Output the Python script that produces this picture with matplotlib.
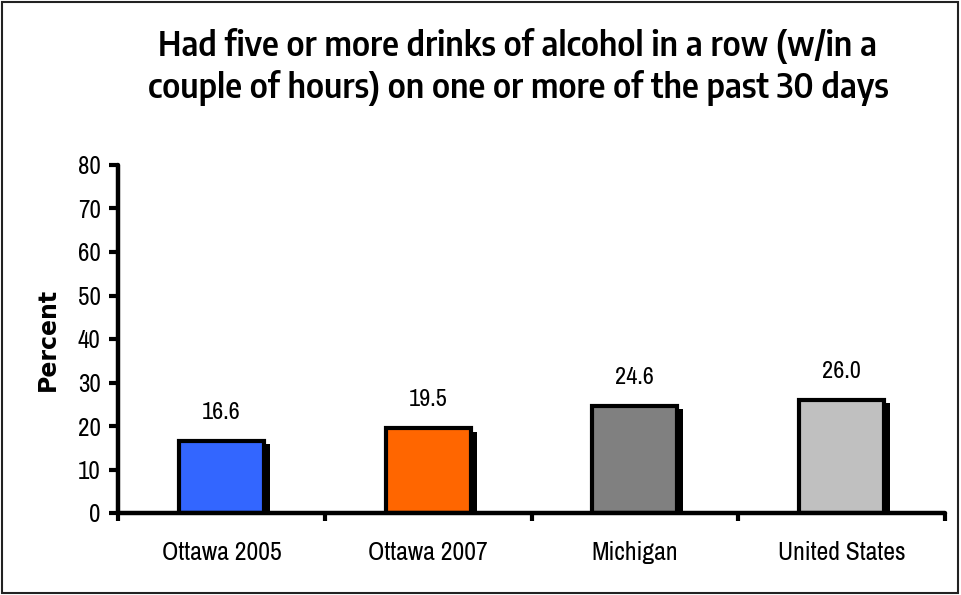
import matplotlib
matplotlib.use('Agg')
import matplotlib.pyplot as plt
import matplotlib.patches as patches
from matplotlib import font_manager
import numpy as np


def first_installed(names, default='DejaVu Sans'):
    installed = {f.name for f in font_manager.fontManager.ttflist}
    for n in names:
        if n in installed:
            return n
    return default


# narrow sans for labels, a semi-condensed one for the (letter-spaced) title
font_main = first_installed(['Archivo Narrow', 'Liberation Sans Narrow', 'PT Sans Narrow', 'Roboto Condensed'])
font_title = first_installed(['Encode Sans Semi Condensed', 'IBM Plex Sans Condensed', 'Fira Sans Condensed', font_main])
plt.rcParams['font.family'] = [font_main, 'DejaVu Sans']

# Data
categories = ['Ottawa 2005', 'Ottawa 2007', 'Michigan', 'United States']
values = [16.6, 19.5, 24.6, 26.0]
colors = ['#3366FF', '#FF6600', '#808080', '#C0C0C0']
title = 'Had five or more drinks of alcohol in a row (w/in a\ncouple of hours) on one or more of the past 30 days'

fig = plt.figure(figsize=(9.61, 5.95), dpi=100)
ax = fig.add_axes([118 / 961, 82 / 595, 827 / 961, 348 / 595])

x = np.arange(len(categories))
width = 0.41

# shadow bars behind
ax.bar(x + 0.03, np.array(values) - 0.8, width=width, color='black', zorder=1)
ax.bar(x, values, width=width, color=colors, edgecolor='black', linewidth=3, zorder=2)

for xi, v in zip(x, values):
    ax.text(xi, v + 4.2, f'{v:.1f}', ha='center', va='bottom', fontsize=17.5)

ax.set_xlim(-0.5, len(categories) - 0.5)
ax.set_ylim(0, 80)
ax.set_yticks(range(0, 81, 10))
ax.set_xticks(x)
ax.set_xticklabels(categories, fontsize=18.5)
ax.set_xticks(np.arange(-0.5, len(categories), 1.0), minor=True)
ax.tick_params(axis='x', which='major', length=0, pad=20)
ax.tick_params(axis='x', which='minor', length=6, width=3, direction='out')
ax.tick_params(axis='y', labelsize=18, length=6.5, width=3, direction='out', pad=6)

for side in ['top', 'right']:
    ax.spines[side].set_visible(False)
for side in ['left', 'bottom']:
    ax.spines[side].set_linewidth(3.2)
    ax.spines[side].set_capstyle('round')

ax.set_ylabel('Percent', fontsize=17, fontweight='bold', family='DejaVu Sans', labelpad=13)

fig.text(518 / 961, 1 - 67 / 595, title, ha='center', va='center', fontsize=24,
         family=[font_title, 'DejaVu Sans'], fontweight='semibold', linespacing=1.2)

# figure border
fig.patches.append(patches.Rectangle((0.002, 0.004), 0.995, 0.992, transform=fig.transFigure,
                                     fill=False, edgecolor='#222222', linewidth=1.5))

fig.savefig('out.png', dpi=100)
